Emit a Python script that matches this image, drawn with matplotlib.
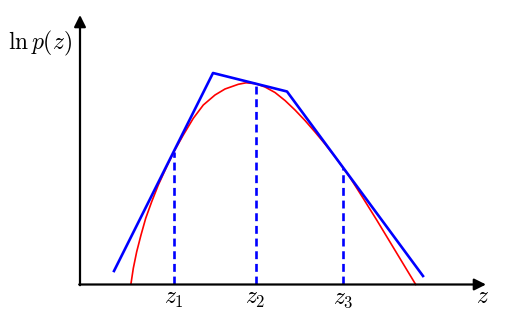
import numpy as np
import matplotlib.pyplot as plt

plt.rcParams['mathtext.fontset'] = 'cm'

# ln p(z) - red curve
z_krive = [0.51, 0.533, 0.567, 0.61, 0.657, 0.717, 0.783, 0.867, 0.943, 1.033,
           1.133, 1.233, 1.35, 1.45, 1.583, 1.66, 1.757, 1.85, 1.95, 2.05,
           2.15, 2.25, 2.35, 2.45, 2.55, 2.633, 2.70, 2.833, 2.967, 3.10,
           3.233, 3.357]
lnp = [0.005, 0.157, 0.323, 0.49, 0.657, 0.823, 0.99, 1.173, 1.33, 1.49,
       1.657, 1.79, 1.89, 1.95, 1.997, 2.012, 2.003, 1.97, 1.915, 1.835,
       1.74, 1.635, 1.52, 1.40, 1.273, 1.16, 1.065, 0.855, 0.64, 0.42,
       0.20, -0.005]

# omotac od tangenti (blue envelope)
z_omot = [0.34, 1.33, 2.07, 3.43]
y_omot = [0.13, 2.11, 1.925, 0.08]

# tacke dodira z1, z2, z3
z_tacke = [0.935, 1.757, 2.633]
y_tacke = [1.32, 2.00, 1.16]
oznake = [r'$z_1$', r'$z_2$', r'$z_3$']

fig = plt.figure(figsize=(5.18, 3.23), dpi=100)
ax = fig.add_axes([0, 0, 1, 1])
ax.set_xlim(-0.80, 4.38)
ax.set_ylim(-0.39, 2.84)
ax.axis('off')

# ose sa strelicama
strelica = dict(arrowstyle='-|>,head_length=0.5,head_width=0.25',
                lw=1.6, color='k', mutation_scale=14, shrinkA=0, shrinkB=0)
ax.annotate('', xy=(4.06, -0.005), xytext=(-0.008, -0.005), arrowprops=strelica)
ax.annotate('', xy=(0, 2.69), xytext=(0, -0.012), arrowprops=strelica)

for z, y in zip(z_tacke, y_tacke):
    ax.plot([z, z], [0, y], color='blue', lw=1.9, linestyle=(0, (3, 1.8)))

ax.plot(z_krive, lnp, color='red', lw=1.2, solid_joinstyle='round')
ax.plot(z_omot, y_omot, color='blue', lw=1.9)

for z, t in zip(z_tacke, oznake):
    ax.text(z, -0.14, t, ha='center', va='center', fontsize=17)
ax.text(4.03, -0.12, r'$z$', ha='center', va='center', fontsize=17)
ax.text(-0.40, 2.41, r'$\ln p(z)$', ha='center', va='center', fontsize=17)

plt.savefig('out.png', dpi=100)
